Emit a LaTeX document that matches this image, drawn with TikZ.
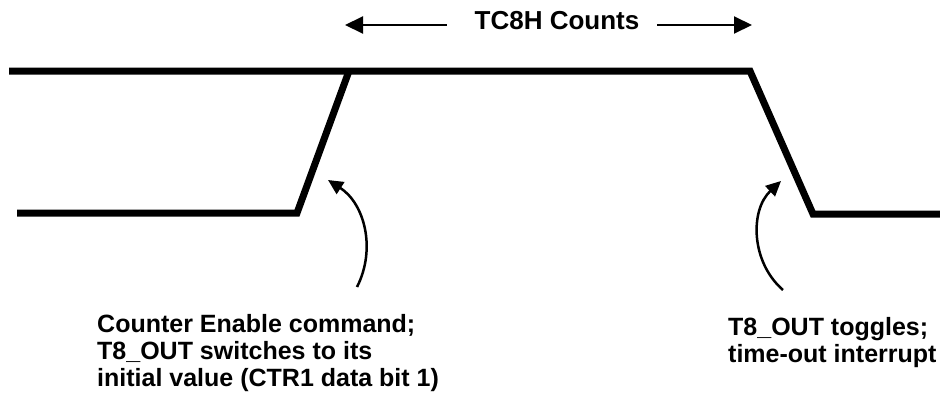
\documentclass[tikz,border=0pt]{standalone}
\usepackage{fontspec}
\setmainfont{Liberation Sans}
\usetikzlibrary{arrows.meta}

\begin{document}
\begin{tikzpicture}[x=1pt,y=-1pt]
  \useasboundingbox (0,0) rectangle (940,400);
  \tikzstyle{SignalStyle}=[line width=7pt]
  \tikzstyle{SpanStyle}=[line width=2pt,-{Triangle[length=18pt,width=17pt]}]
  \tikzstyle{PointerStyle}=[line width=2.5pt,-{Triangle[length=15pt,width=14pt]}]
  \tikzstyle{LabelStyle}=[inner sep=0pt,font=\fontsize{25}{27}\selectfont\bfseries]
  \tikzstyle{NoteStyle}=[LabelStyle,align=left,anchor=north west]
  \coordinate (hiL) at (9,71);
  \coordinate (loL) at (17,213);
  \coordinate (rise) at (297,213);
  \coordinate (riseTop) at (349,71);
  \coordinate (fall) at (750,71);
  \coordinate (fallLow) at (813,214);
  \coordinate (loR) at (940,214);
  \draw[SignalStyle] (hiL) -- (fall) -- (fallLow) -- (loR);
  \draw[SignalStyle] (loL) -- (rise) -- (riseTop);
  \node[LabelStyle,anchor=base,font=\fontsize{26}{28}\selectfont\bfseries] (counts) at (557,29.5) {TC8H Counts};
  \coordinate (cntL) at (345,25);
  \coordinate (cntR) at (752,25);
  \draw[SpanStyle,shorten <=27.7pt] (counts.west |- cntL) -- (cntL);
  \draw[SpanStyle,shorten <=17.7pt] (counts.east |- cntR) -- (cntR);
  \node[NoteStyle] (enableNote) at (97,314) {Counter Enable command;\\T8\_OUT switches to its\\initial value (CTR1 data bit 1)};
  \node[NoteStyle] (toggleNote) at (728,317) {T8\_OUT toggles;\\time-out interrupt};
  \coordinate (enableTail) at (357,287);
  \coordinate (enableTip) at (328,180);
  \coordinate (toggleTail) at (783,290);
  \coordinate (toggleTip) at (781,181);
  \draw[PointerStyle] (enableTail) to[bend right=42] (enableTip);
  \draw[PointerStyle] (toggleTail) to[bend left=48] (toggleTip);
\end{tikzpicture}
\end{document}
